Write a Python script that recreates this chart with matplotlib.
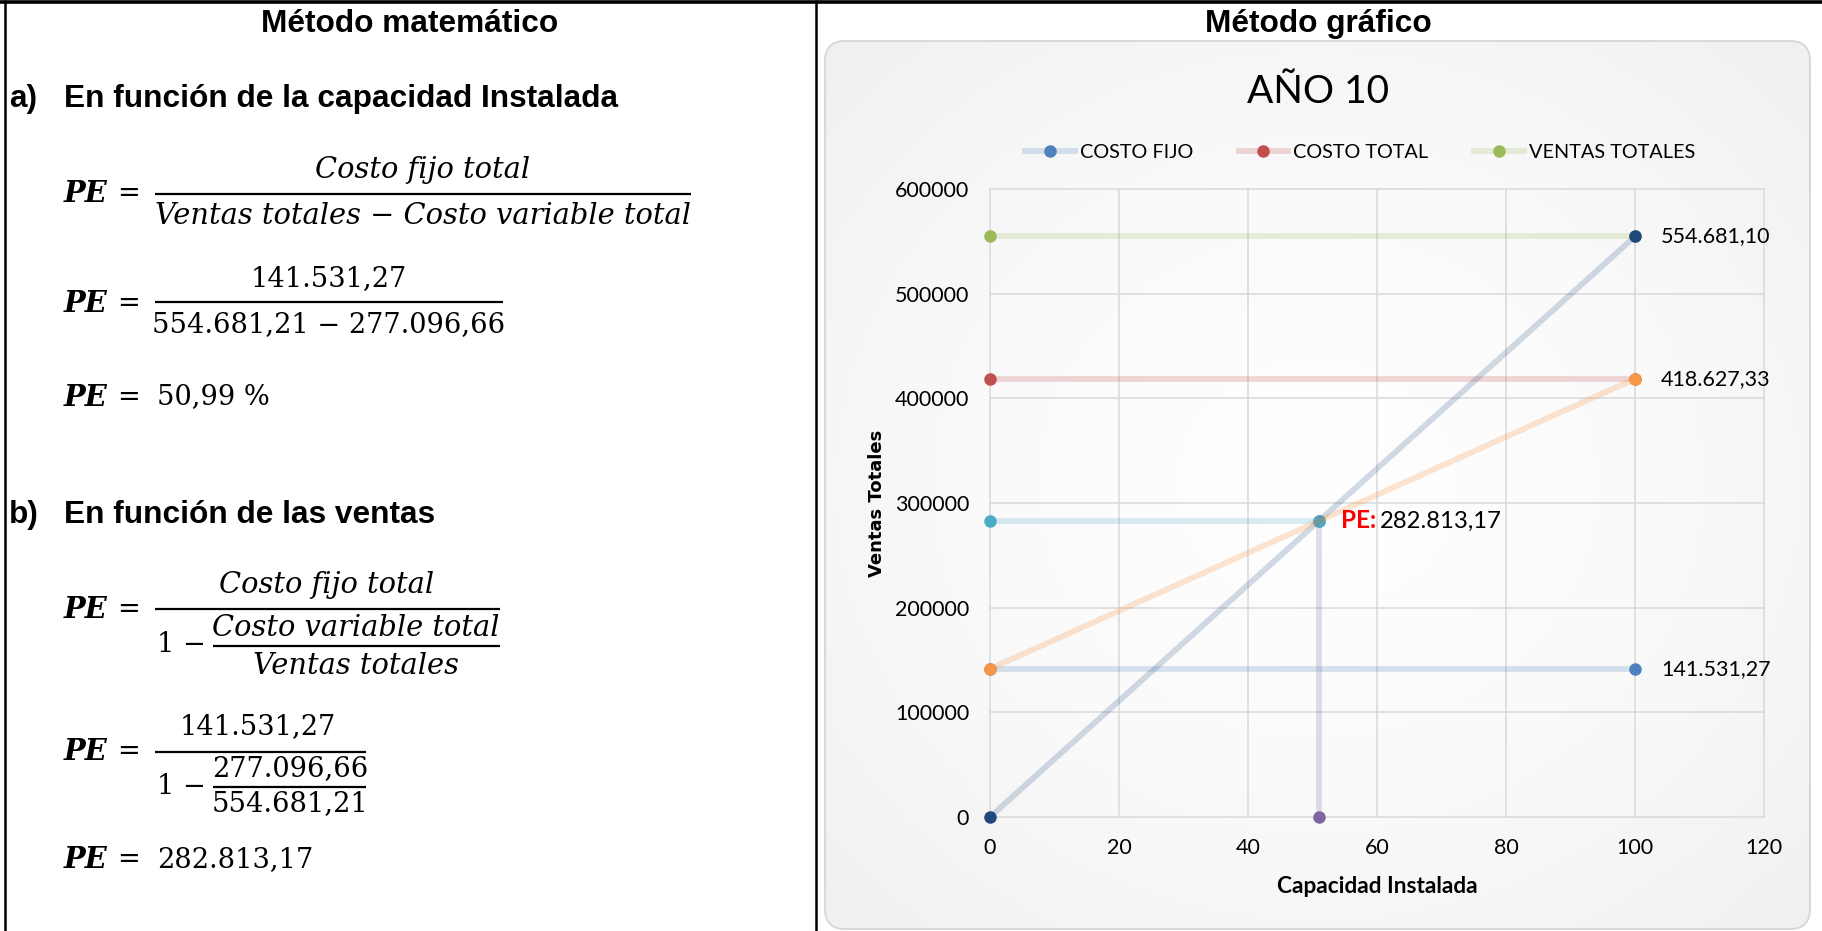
import matplotlib
matplotlib.use("Agg")
import matplotlib.pyplot as plt
import numpy as np
from matplotlib.patches import FancyBboxPatch
from matplotlib.lines import Line2D
from matplotlib.colors import LinearSegmentedColormap, to_rgb

W, H = 1822, 931

# ---------------- data ----------------
capacidad = [0, 100]
costo_fijo = [141531.27, 141531.27]
costo_total = [418627.33, 418627.33]
ventas_totales = [554681.10, 554681.10]
ventas_linea = [0, 554681.10]
costo_total_linea = [141531.27, 418627.33]
pe_capacidad = 50.99
pe_ventas = 282813.17

legend_labels = ["COSTO FIJO", "COSTO TOTAL", "VENTAS TOTALES"]
x_ticks = [0, 20, 40, 60, 80, 100, 120]
y_ticks = [0, 100000, 200000, 300000, 400000, 500000, 600000]

f1_num = "Costo fijo total"
f1_den = "Ventas totales \u2212 Costo variable total"
f2_num = "141.531,27"
f2_den = "554.681,21 \u2212 277.096,66"
f3_res = "50,99 %"
f4_num = "Costo fijo total"
f4_inum = "Costo variable total"
f4_iden = "Ventas totales"
f5_num = "141.531,27"
f5_inum = "277.096,66"
f5_iden = "554.681,21"
f6_res = "282.813,17"


def fmt_es(v):
    s = f"{v:,.2f}"
    return s.replace(",", "X").replace(".", ",").replace("X", ".")


# ---------------- figure ----------------
fig = plt.figure(figsize=(W / 100, H / 100), dpi=100)
fig.patch.set_facecolor("white")

bg = fig.add_axes([0, 0, 1, 1], zorder=0)
bg.set_xlim(0, W)
bg.set_ylim(H, 0)
bg.axis("off")

# table borders
bg.plot([0, W], [1.5, 1.5], color="black", lw=2.6, solid_capstyle="butt")
bg.plot([5, 5], [0, H], color="black", lw=1.8, solid_capstyle="butt")
bg.plot([816, 816], [0, H], color="black", lw=1.8, solid_capstyle="butt")

# headers
HFONT = "Liberation Sans"
HS = 22.8
bg.text(410, 24, "Método matemático", ha="center", va="center",
        fontfamily=HFONT, fontweight="bold", fontsize=HS)
bg.text(1318, 24, "Método gráfico", ha="center", va="center",
        fontfamily=HFONT, fontweight="bold", fontsize=HS)

bg.text(9, 99, "a)", ha="left", va="center", fontfamily=HFONT,
        fontweight="bold", fontsize=HS)
bg.text(64, 99, "En función de la capacidad Instalada", ha="left", va="center",
        fontfamily=HFONT, fontweight="bold", fontsize=HS)
bg.text(9, 515, "b)", ha="left", va="center", fontfamily=HFONT,
        fontweight="bold", fontsize=HS)
bg.text(64, 515, "En función de las ventas", ha="left", va="center",
        fontfamily=HFONT, fontweight="bold", fontsize=HS)

MF = "DejaVu Serif"
MS_UP = 19.6
MS_IT = 20.8


def pe(y):
    bg.text(64, y, "PE", ha="left", va="center", fontfamily=MF,
            fontweight="bold", style="italic", fontsize=MS_IT)
    bg.text(117, y, "=", ha="left", va="center", fontfamily=MF, fontsize=MS_UP)


def mtext(x, y, s, italic=False, ha="center"):
    bg.text(x, y, s, ha=ha, va="center", fontfamily=MF,
            fontsize=MS_IT if italic else MS_UP,
            style="italic" if italic else "normal")


def bar(x0, x1, y):
    bg.plot([x0, x1], [y, y], color="black", lw=1.6, solid_capstyle="butt")


# formula 1
pe(193)
mtext(423, 170, f1_num, italic=True)
bar(155, 691, 194)
mtext(423, 216, f1_den, italic=True)
# formula 2
pe(303)
mtext(329, 279, f2_num)
bar(155, 503, 302)
mtext(329, 325, f2_den)
# formula 3
pe(397)
mtext(157, 397, f3_res, ha="left")
# formula 4
pe(609)
mtext(327, 585, f4_num, italic=True)
bar(155, 500, 609)
mtext(157, 644, "1 \u2212", ha="left")
mtext(356, 628, f4_inum, italic=True)
bar(213, 500, 646)
mtext(356, 666, f4_iden, italic=True)
# formula 5
pe(752)
mtext(258, 727, f5_num)
bar(155, 366, 752)
mtext(157, 787, "1 \u2212", ha="left")
mtext(290, 769, f5_inum)
bar(213, 366, 787)
mtext(290, 804, f5_iden)
# formula 6
pe(860)
mtext(157, 860, f6_res, ha="left")

# ---------------- chart area background ----------------
cx0, cy0, cx1, cy1 = 825, 41, 1810, 929
area = FancyBboxPatch((cx0, cy0), cx1 - cx0, cy1 - cy0,
                      boxstyle="round,pad=0,rounding_size=20",
                      fc="none", ec="#d6d6d6", lw=1.3, zorder=3)
bg.add_patch(area)
gx = np.linspace(-1, 1, 300)
gy = np.linspace(-1, 1, 300)
GX, GY = np.meshgrid(gx, gy)
R = np.clip(np.sqrt(GX ** 2 + GY ** 2) / np.sqrt(2), 0, 1)
cmap = LinearSegmentedColormap.from_list("g", ["#ffffff", "#fafafa", "#f0f0f0"])
im = bg.imshow(R, extent=(cx0, cx1, cy1, cy0), cmap=cmap, vmin=0, vmax=1,
               aspect="auto", interpolation="bilinear", zorder=1)
clip = FancyBboxPatch((cx0, cy0), cx1 - cx0, cy1 - cy0,
                      boxstyle="round,pad=0,rounding_size=20",
                      fc="none", ec="none", transform=bg.transData)
im.set_clip_path(clip)

CF = "Lato"
bg.text(1318, 92, "AÑO 10", ha="center", va="center", fontfamily=CF,
        fontsize=28, color="#000000")

# ---------------- chart ----------------
ax = fig.add_axes([990 / W, 1 - 817 / H, 774 / W, 628 / H], zorder=2)
ax.patch.set_alpha(0)
ax.set_xlim(0, 120)
ax.set_ylim(0, 600000)
ax.set_xticks(x_ticks)
ax.set_yticks(y_ticks)
ax.set_xticklabels([str(v) for v in x_ticks])
ax.set_yticklabels([str(v) for v in y_ticks])
for s in ax.spines.values():
    s.set_visible(False)
ax.grid(True, color="#d9d9d9", lw=1.1)
for gl in ax.get_xgridlines() + ax.get_ygridlines():
    gl.set_clip_on(False)
ax.set_axisbelow(True)
ax.tick_params(length=0, labelsize=15.5, colors="black")
ax.tick_params(axis="y", pad=15)
ax.tick_params(axis="x", pad=15)
for lab in ax.get_xticklabels() + ax.get_yticklabels():
    lab.set_fontfamily(CF)

GREEN = "#9BBB59"
RED = "#C0504D"
BLUE = "#4F81BD"
NAVY = "#1F497D"
ORANGE = "#F79646"
AQUA = "#4BACC6"
PURPLE = "#8064A2"


def light(c, a):
    r, g, b = to_rgb(c)
    return (r, g, b, a)


LW = 4.2
MSZ = 8


def series(x, y, c, a=0.22, mc=None):
    mc = mc or c
    ax.plot(x, y, color=light(c, a), lw=LW, marker="o", ms=MSZ,
            mfc=mc, mec=mc, solid_capstyle="butt", clip_on=False)


series(capacidad, ventas_totales, GREEN)
series(capacidad, costo_total, RED)
series(capacidad, costo_fijo, BLUE)
series([pe_capacidad, pe_capacidad], [0, pe_ventas], PURPLE)
series([0, pe_capacidad], [pe_ventas, pe_ventas], AQUA)
series(capacidad, ventas_linea, NAVY, a=0.2)
series(capacidad, costo_total_linea, ORANGE, a=0.25)

lab_kw = dict(textcoords="offset points", va="center", ha="left",
              fontfamily=CF, fontsize=15.5, color="black")
ax.annotate(fmt_es(ventas_totales[1]), xy=(capacidad[1], ventas_totales[1]),
            xytext=(26 * 0.72, 0), **lab_kw)
ax.annotate(fmt_es(costo_total[1]), xy=(capacidad[1], costo_total[1]),
            xytext=(26 * 0.72, 0), **lab_kw)
ax.annotate(fmt_es(costo_fijo[1]), xy=(capacidad[1], costo_fijo[1]),
            xytext=(26 * 0.72, 0), **lab_kw)
ax.annotate("PE:", xy=(pe_capacidad, pe_ventas), xytext=(22 * 0.72, 0),
            textcoords="offset points", va="center", ha="left",
            fontfamily=CF, fontsize=17.5, color="#FF0000", fontweight="bold")
ax.annotate(fmt_es(pe_ventas), xy=(pe_capacidad, pe_ventas),
            xytext=(61 * 0.72, 0), textcoords="offset points", va="center",
            ha="left", fontfamily=CF, fontsize=17.2, color="black")

ax.set_ylabel("Ventas Totales", fontfamily="DejaVu Sans", fontweight="bold",
              fontsize=13)
ax.yaxis.set_label_coords((886 - 990) / 774, 0.5)
ax.set_xlabel("Capacidad Instalada", fontfamily=CF, fontweight="bold",
              fontsize=16.3)
ax.xaxis.set_label_coords(0.5, (817 - 876) / 628)

handles = [
    Line2D([], [], color=light(BLUE, 0.22), lw=LW, marker="o", ms=MSZ,
           mfc=BLUE, mec=BLUE),
    Line2D([], [], color=light(RED, 0.22), lw=LW, marker="o", ms=MSZ,
           mfc=RED, mec=RED),
    Line2D([], [], color=light(GREEN, 0.22), lw=LW, marker="o", ms=MSZ,
           mfc=GREEN, mec=GREEN),
]
ax.legend(handles, legend_labels, loc="center",
          bbox_to_anchor=(1360 / W, 1 - 152 / H),
          bbox_transform=fig.transFigure, ncol=3, frameon=False,
          handlelength=2.5, columnspacing=2.3, handletextpad=0.25,
          prop={"family": CF, "size": 14.3}, borderaxespad=0, borderpad=0)

fig.savefig("out.png", dpi=100, facecolor="white")
